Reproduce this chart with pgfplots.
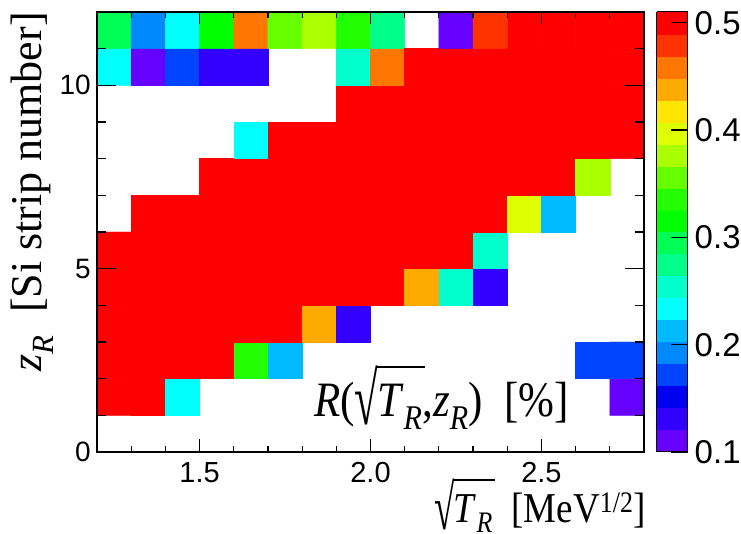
\documentclass[border=0pt]{standalone}
\usepackage{amsmath}
\usepackage{graphicx}
\usepackage{fontspec}
\setmainfont{Liberation Serif}
\newfontfamily\arial{Liberation Sans}
\usepackage{pgfplots}
\usepackage{pgfplotstable}
\pgfplotsset{compat=1.18}
\pgfkeys{/pgf/number format/assume math mode=true}

\pgfplotsset{colormap={rootpal}{
rgb255=(102,0,255) rgb255=(51,0,255) rgb255=(0,0,240) rgb255=(0,68,255) rgb255=(0,136,255)
rgb255=(0,187,255) rgb255=(0,255,255) rgb255=(0,255,204) rgb255=(0,255,136) rgb255=(0,255,85)
rgb255=(0,255,0) rgb255=(34,255,0) rgb255=(102,255,0) rgb255=(170,255,0) rgb255=(221,255,0)
rgb255=(255,230,0) rgb255=(255,170,0) rgb255=(255,119,0) rgb255=(255,51,0) rgb255=(255,0,0)}}

\pgfplotstableread{
x y c
1.25 0.5 nan
1.35 0.5 nan
1.45 0.5 nan
1.55 0.5 nan
1.65 0.5 nan
1.75 0.5 nan
1.85 0.5 nan
1.95 0.5 nan
2.05 0.5 nan
2.15 0.5 nan
2.25 0.5 nan
2.35 0.5 nan
2.45 0.5 nan
2.55 0.5 nan
2.65 0.5 nan
2.75 0.5 nan
1.25 1.5 0.5
1.35 1.5 0.5
1.45 1.5 0.233
1.55 1.5 nan
1.65 1.5 nan
1.75 1.5 nan
1.85 1.5 nan
1.95 1.5 nan
2.05 1.5 nan
2.15 1.5 nan
2.25 1.5 nan
2.35 1.5 nan
2.45 1.5 nan
2.55 1.5 nan
2.65 1.5 nan
2.75 1.5 0.110
1.25 2.5 0.5
1.35 2.5 0.5
1.45 2.5 0.5
1.55 2.5 0.5
1.65 2.5 0.336
1.75 2.5 0.213
1.85 2.5 nan
1.95 2.5 nan
2.05 2.5 nan
2.15 2.5 nan
2.25 2.5 nan
2.35 2.5 nan
2.45 2.5 nan
2.55 2.5 nan
2.65 2.5 0.172
2.75 2.5 0.172
1.25 3.5 0.5
1.35 3.5 0.5
1.45 3.5 0.5
1.55 3.5 0.5
1.65 3.5 0.5
1.75 3.5 0.5
1.85 3.5 0.438
1.95 3.5 0.131
2.05 3.5 nan
2.15 3.5 nan
2.25 3.5 nan
2.35 3.5 nan
2.45 3.5 nan
2.55 3.5 nan
2.65 3.5 nan
2.75 3.5 nan
1.25 4.5 0.5
1.35 4.5 0.5
1.45 4.5 0.5
1.55 4.5 0.5
1.65 4.5 0.5
1.75 4.5 0.5
1.85 4.5 0.5
1.95 4.5 0.5
2.05 4.5 0.5
2.15 4.5 0.438
2.25 4.5 0.254
2.35 4.5 0.131
2.45 4.5 nan
2.55 4.5 nan
2.65 4.5 nan
2.75 4.5 nan
1.25 5.5 0.5
1.35 5.5 0.5
1.45 5.5 0.5
1.55 5.5 0.5
1.65 5.5 0.5
1.75 5.5 0.5
1.85 5.5 0.5
1.95 5.5 0.5
2.05 5.5 0.5
2.15 5.5 0.5
2.25 5.5 0.5
2.35 5.5 0.254
2.45 5.5 nan
2.55 5.5 nan
2.65 5.5 nan
2.75 5.5 nan
1.25 6.5 nan
1.35 6.5 0.5
1.45 6.5 0.5
1.55 6.5 0.5
1.65 6.5 0.5
1.75 6.5 0.5
1.85 6.5 0.5
1.95 6.5 0.5
2.05 6.5 0.5
2.15 6.5 0.5
2.25 6.5 0.5
2.35 6.5 0.5
2.45 6.5 0.397
2.55 6.5 0.213
2.65 6.5 nan
2.75 6.5 nan
1.25 7.5 nan
1.35 7.5 nan
1.45 7.5 nan
1.55 7.5 0.5
1.65 7.5 0.5
1.75 7.5 0.5
1.85 7.5 0.5
1.95 7.5 0.5
2.05 7.5 0.5
2.15 7.5 0.5
2.25 7.5 0.5
2.35 7.5 0.5
2.45 7.5 0.5
2.55 7.5 0.5
2.65 7.5 0.377
2.75 7.5 nan
1.25 8.5 nan
1.35 8.5 nan
1.45 8.5 nan
1.55 8.5 nan
1.65 8.5 0.233
1.75 8.5 0.5
1.85 8.5 0.5
1.95 8.5 0.5
2.05 8.5 0.5
2.15 8.5 0.5
2.25 8.5 0.5
2.35 8.5 0.5
2.45 8.5 0.5
2.55 8.5 0.5
2.65 8.5 0.5
2.75 8.5 0.5
1.25 9.5 nan
1.35 9.5 nan
1.45 9.5 nan
1.55 9.5 nan
1.65 9.5 nan
1.75 9.5 nan
1.85 9.5 nan
1.95 9.5 0.5
2.05 9.5 0.5
2.15 9.5 0.5
2.25 9.5 0.5
2.35 9.5 0.5
2.45 9.5 0.5
2.55 9.5 0.5
2.65 9.5 0.5
2.75 9.5 0.5
1.25 10.5 0.233
1.35 10.5 0.110
1.45 10.5 0.172
1.55 10.5 0.131
1.65 10.5 0.131
1.75 10.5 nan
1.85 10.5 nan
1.95 10.5 0.254
2.05 10.5 0.459
2.15 10.5 0.5
2.25 10.5 0.5
2.35 10.5 0.5
2.45 10.5 0.5
2.55 10.5 0.5
2.65 10.5 0.5
2.75 10.5 0.5
1.25 11.5 0.295
1.35 11.5 0.192
1.45 11.5 0.233
1.55 11.5 0.315
1.65 11.5 0.459
1.75 11.5 0.356
1.85 11.5 0.377
1.95 11.5 0.336
2.05 11.5 0.274
2.15 11.5 nan
2.25 11.5 0.110
2.35 11.5 0.479
2.45 11.5 0.5
2.55 11.5 0.5
2.65 11.5 0.5
2.75 11.5 0.5
}\cells

\newsavebox\myrtbox
\newsavebox\myargbox
\newcommand{\rroot}[1]{%
  \sbox\myrtbox{\raisebox{-0.15em}{\scalebox{1}[1.5]{√}}}%
  \sbox\myargbox{#1}%
  \usebox\myrtbox\kern-0.03em
  \rlap{\rule[\dimexpr\ht\myrtbox-0.045em\relax]{\dimexpr\wd\myargbox+0.05em\relax}{0.045em}}%
  \usebox\myargbox}

\begin{document}
\begin{tikzpicture}
\begin{axis}[
  at={(0pt,0pt)}, anchor=south west,
  scale only axis, width=547pt, height=440pt,
  xmin=1.2, xmax=2.8, ymin=0, ymax=12,
  enlargelimits=false,
  clip=false,
  axis on top,
  colormap name=rootpal,
  colormap access=piecewise constant,
  point meta min=0.1, point meta max=0.51,
  axis line style={line width=1.3pt},
  tick align=inside,
  every tick/.style={black, line width=1.2pt},
  major tick length=19pt, minor tick length=9pt,
  xtick style={/pgfplots/major tick length=12.5pt, /pgfplots/minor tick length=6pt},
  xtick={1.5,2,2.5}, xticklabels={1.5,2.0,2.5},
  minor xtick={1.3,1.4,1.6,1.7,1.8,1.9,2.1,2.2,2.3,2.4,2.6,2.7},
  ytick={0,5,10},
  minor ytick={1,2,3,4,6,7,8,9,11},
  xticklabel style={font=\arial\fontsize{29}{29}\selectfont, inner sep=0pt, anchor=north, yshift=-10pt},
  yticklabel style={font=\arial\fontsize{28}{28}\selectfont, inner sep=0pt, anchor=east, xshift=-6pt},
  colorbar right,
  colorbar style={
    at={(parent axis.north east)}, anchor=north west, xshift=4pt,
    width=31pt,
    ytick={0.1,0.2,0.3,0.4,0.5},
    yticklabels={0.1,0.2,0.3,0.4,0.5},
    ytick pos=right, yticklabel pos=right,
    tick align=inside,
    major tick length=17pt,
    every tick/.style={black, line width=1.2pt},
    axis line style={line width=1pt},
    yticklabel style={font=\arial\fontsize{33}{33}\selectfont, inner sep=0pt, anchor=west, xshift=7pt},
  },
]
\addplot[surf, shader=flat corner, mesh input=image, mesh/cols=16, mesh/rows=12,
  draw=mapped color, point meta=explicit, unbounded coords=jump]
  table[x=x, y=y, meta=c] {\cells};

\node[anchor=base west, inner sep=0pt, yscale=1.15, font=\fontsize{43}{43}\selectfont]
  at ([xshift=217pt, yshift=35pt]rel axis cs:0,0)
  {\textit{R}(\rroot{\textit{T}$_{\textit{R}}$},\textit{z}$_{\textit{R}}$)\ \ [\%]};
\node[anchor=base east, inner sep=0pt, yscale=1.15, font=\fontsize{37}{37}\selectfont]
  at ([xshift=2pt, yshift=-71pt]rel axis cs:1,0)
  {\rroot{\textit{T}$_{\textit{R}}$}\ \ [MeV$^{\text{1/2}}$]};
\node[anchor=base east, rotate=90, inner sep=0pt, font=\fontsize{44}{44}\selectfont]
  at ([xshift=-55pt]rel axis cs:0,1)
  {\textit{z}$_{\textit{R}}$\ \ [Si strip number]};
\end{axis}
\pgfresetboundingbox
\path[use as bounding box] (-97pt,-82pt) rectangle (644pt,452pt);
\end{tikzpicture}
\end{document}
